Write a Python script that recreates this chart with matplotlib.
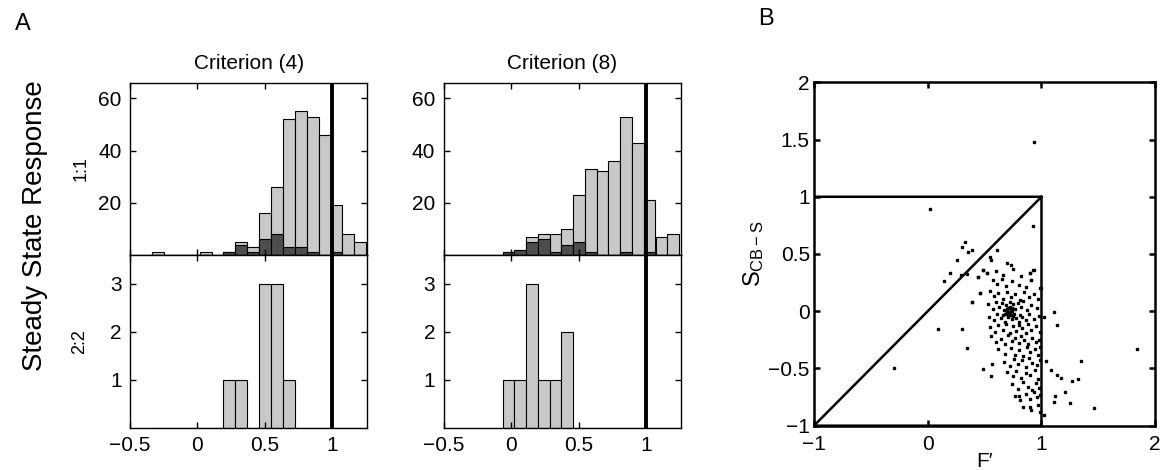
import matplotlib.pyplot as plt

plt.rcParams['font.family'] = ['Liberation Sans', 'DejaVu Sans']
plt.rcParams['mathtext.fontset'] = 'custom'
plt.rcParams['mathtext.rm'] = 'Liberation Sans'
plt.rcParams['mathtext.it'] = 'Liberation Sans'

# ---- panel A: histogram bins (bin centres) ----
bins_c4 = [-0.292, -0.204, -0.116, -0.028, 0.061, 0.149, 0.237, 0.325, 0.414,
           0.502, 0.590, 0.678, 0.767, 0.855, 0.943, 1.031, 1.119, 1.208]
width_c4 = 0.088
c4_11_all = [1, 0, 0, 0, 1, 0, 1, 5, 3, 16, 26, 52, 55, 53, 46, 19, 8, 5]
c4_11_dark = [0, 0, 0, 0, 0, 0, 1, 4, 1, 6, 8, 3, 3, 1, 0, 1, 0, 0]
c4_22 = [0, 0, 0, 0, 0, 0, 1, 1, 0, 3, 3, 1, 0, 0, 0, 0, 0, 0]

bins_c8 = [-0.020, 0.067, 0.154, 0.242, 0.329, 0.416, 0.504, 0.591, 0.678,
           0.765, 0.853, 0.940, 1.027, 1.115, 1.202]
width_c8 = 0.087
c8_11_all = [1, 2, 7, 8, 8, 10, 23, 33, 32, 36, 53, 43, 21, 7, 8]
c8_11_dark = [1, 2, 5, 6, 1, 4, 5, 1, 0, 0, 1, 0, 1, 0, 0]
c8_22 = [1, 1, 3, 1, 1, 2, 0, 0, 0, 0, 0, 0, 0, 0, 0]

# ---- panel B: scatter of F' vs S_CB-S ----
f_prime = [0.937, 0.017, 0.927, 0.326, 0.303, 0.391, 0.358, 0.612, 0.547, 0.56,
           0.261, 0.196, 0.147, 0.293, 0.342, 0.488, 0.521, 0.44, 0.70, 0.732,
           0.895, 0.927, 0.911, 0.992, 0.456, 0.391, 1.106, 1.025, 1.138, 0.092,
           0.303, 0.342, 1.837, -0.298, 0.482, 0.563, 0.554, 1.35, 1.041, 1.08,
           1.138, 1.171, 1.268, 1.317, 1.203, 1.116, 1.106, 1.252, 1.463, 1.025,
           0.765, 0.813, 0.895,
           0.49, 0.52, 0.44, 0.60, 0.66, 0.75, 0.82, 0.90, 0.93,
           0.57, 0.61, 0.65, 0.69, 0.74, 0.80, 0.86, 0.91, 0.99,
           0.55, 0.58, 0.62, 0.66, 0.70, 0.73, 0.77, 0.81, 0.85, 0.89, 0.93, 0.97, 0.46,
           0.53, 0.57, 0.60, 0.63, 0.65, 0.67, 0.69, 0.71, 0.72, 0.74, 0.75, 0.77, 0.79,
           0.82, 0.84, 0.87, 0.91, 0.96, 0.39,
           0.54, 0.58, 0.61, 0.64, 0.66, 0.68, 0.70, 0.71, 0.73, 0.74, 0.76, 0.78, 0.80,
           0.81, 0.83, 0.86, 0.89, 0.93, 0.98,
           0.55, 0.59, 0.62, 0.66, 0.69, 0.72, 0.75, 0.78, 0.80, 0.83, 0.86, 0.88, 0.91,
           0.95, 0.99,
           0.56, 0.60, 0.64, 0.68, 0.71, 0.74, 0.77, 0.80, 0.82, 0.85, 0.88, 0.92, 0.95, 0.98,
           0.62, 0.68, 0.73, 0.77, 0.80, 0.84, 0.87, 0.90, 0.94, 0.97, 0.99,
           0.67, 0.72, 0.76, 0.79, 0.83, 0.86, 0.89, 0.92, 0.96, 0.99,
           0.70, 0.75, 0.78, 0.82, 0.86, 0.90, 0.94, 0.97,
           0.74, 0.79, 0.84, 0.88, 0.92, 0.95, 0.98,
           0.80, 0.86, 0.90, 0.93, 0.96, 0.99,
           0.84, 0.91, 0.97, 0.99,
           0.70, 0.72, 0.73, 0.69, 0.71, 0.74, 0.68, 0.75, 0.72, 0.70]
s_cbs = [1.476, 0.893, 0.747, 0.608, 0.564, 0.535, 0.52, 0.535, 0.477, 0.447,
         0.447, 0.331, 0.267, 0.316, 0.322, 0.36, 0.331, 0.302, 0.418, 0.404,
         0.331, 0.36, 0.273, 0.2, 0.156, 0.083, -0.004, -0.048, -0.121, -0.156,
         -0.156, -0.325, -0.33, -0.499, -0.508, -0.464, -0.563, -0.435, -0.435, -0.514,
         -0.558, -0.587, -0.607, -0.595, -0.703, -0.741, -0.791, -0.805, -0.843, -0.907,
         -0.741, -0.776, -0.834,
         0.36, 0.33, 0.30, 0.35, 0.32, 0.37, 0.31, 0.33, 0.36,
         0.27, 0.24, 0.28, 0.22, 0.26, 0.23, 0.21, 0.27, 0.20,
         0.18, 0.13, 0.16, 0.11, 0.17, 0.12, 0.15, 0.10, 0.17, 0.12, 0.15, 0.11, 0.16,
         0.06, 0.02, 0.08, 0.04, 0.07, 0.01, 0.05, 0.03, 0.08, 0.00, 0.06, 0.02, 0.07,
         0.04, 0.09, 0.01, 0.05, 0.03, 0.08,
         -0.05, -0.08, -0.02, -0.06, -0.03, -0.09, -0.01, -0.05, -0.03, -0.07, -0.02, -0.06, -0.09,
         -0.03, -0.05, -0.08, -0.02, -0.07, -0.04,
         -0.14, -0.18, -0.12, -0.16, -0.11, -0.19, -0.13, -0.17, -0.12, -0.15, -0.19, -0.11, -0.16,
         -0.13, -0.18,
         -0.22, -0.27, -0.24, -0.29, -0.21, -0.26, -0.23, -0.28, -0.22, -0.25, -0.29, -0.23, -0.27, -0.25,
         -0.33, -0.37, -0.32, -0.38, -0.34, -0.39, -0.31, -0.36, -0.33, -0.38, -0.31,
         -0.44, -0.48, -0.42, -0.46, -0.43, -0.49, -0.41, -0.45, -0.47, -0.43,
         -0.53, -0.57, -0.52, -0.58, -0.54, -0.56, -0.51, -0.59,
         -0.64, -0.68, -0.62, -0.66, -0.69, -0.63, -0.67,
         -0.74, -0.72, -0.77, -0.71, -0.75, -0.73,
         -0.84, -0.86, -0.82, -0.88,
         0.00, -0.01, 0.02, 0.01, -0.03, 0.03, -0.02, -0.04, 0.04, 0.02]

# boundary of the region drawn in B
region_x = [-1, 1, 1, -1, 1]
region_y = [1, 1, -1, -1, 1]

light = '#c8c8c8'
dark = '#4d4d4d'
fs = 15


def matlab_box(ax, lw=1.0):
    for s in ax.spines.values():
        s.set_linewidth(lw)
    ax.tick_params(direction='in', top=True, right=True, length=4, width=lw,
                   labelsize=fs, pad=6)


fig = plt.figure(figsize=(11.6, 4.7), dpi=100)

lefts = [0.1121, 0.3825]
w = 0.2046
top_b, top_h = 0.4574, 0.3666
bot_b, bot_h = 0.090, 0.3674

panels = [(bins_c4, width_c4, c4_11_all, c4_11_dark, c4_22, 'Criterion (4)'),
          (bins_c8, width_c8, c8_11_all, c8_11_dark, c8_22, 'Criterion (8)')]

for i, (bins, bw, all11, dark11, v22, title) in enumerate(panels):
    ax1 = fig.add_axes([lefts[i], top_b, w, top_h])
    ax2 = fig.add_axes([lefts[i], bot_b, w, bot_h])

    ax1.bar(bins, all11, width=bw, color=light, edgecolor='black', linewidth=0.8)
    ax1.bar(bins, dark11, width=bw, color=dark, edgecolor='black', linewidth=0.8)
    ax2.bar(bins, v22, width=bw, color=light, edgecolor='black', linewidth=0.8)

    for ax in (ax1, ax2):
        ax.axvline(1, color='black', linewidth=2.8, zorder=5)
        ax.set_xlim(-0.5, 1.26)
        ax.set_xticks([-0.5, 0, 0.5, 1])
        matlab_box(ax)
    ax1.set_ylim(0, 66)
    ax1.set_yticks([20, 40, 60])
    ax1.set_xticklabels([])
    ax2.set_ylim(0, 3.6)
    ax2.set_yticks([1, 2, 3])
    ax2.set_xticklabels(['\u22120.5', '0', '0.5', '1'])
    ax1.set_title(title, fontsize=fs, pad=10)
    if i == 0:
        ax1.set_ylabel('1:1', fontsize=13, labelpad=6)
        ax2.set_ylabel('2:2', fontsize=13, labelpad=16)

fig.text(0.030, 0.52, 'Steady State Response', rotation=90, fontsize=20,
         ha='center', va='center')
fig.text(0.020, 0.95, 'A', fontsize=17, ha='center', va='center')
fig.text(0.660, 0.96, 'B', fontsize=17, ha='center', va='center')

# ---- panel B ----
axb = fig.add_axes([0.7017, 0.0943, 0.2942, 0.7306])
axb.plot(region_x, region_y, color='black', linewidth=1.8)
axb.plot(f_prime, s_cbs, linestyle='none', marker='s', markersize=1.6,
         color='black')
axb.set_xlim(-1, 2)
axb.set_ylim(-1, 2)
axb.set_xticks([-1, 0, 1, 2])
axb.set_xticklabels(['\u22121', '0', '1', '2'])
axb.set_yticks([-1, -0.5, 0, 0.5, 1, 1.5, 2])
axb.set_yticklabels(['\u22121', '\u22120.5', '0', '0.5', '1', '1.5', '2'])
matlab_box(axb, lw=1.8)
axb.tick_params(axis='y', pad=3)
axb.tick_params(axis='x', pad=7)
axb.set_xlabel('F\u2032', fontsize=fs, labelpad=-2)
axb.set_ylabel(r'$\mathregular{S_{CB-S}}$', fontsize=fs + 2, labelpad=2)

fig.savefig('out.png', dpi=100)
